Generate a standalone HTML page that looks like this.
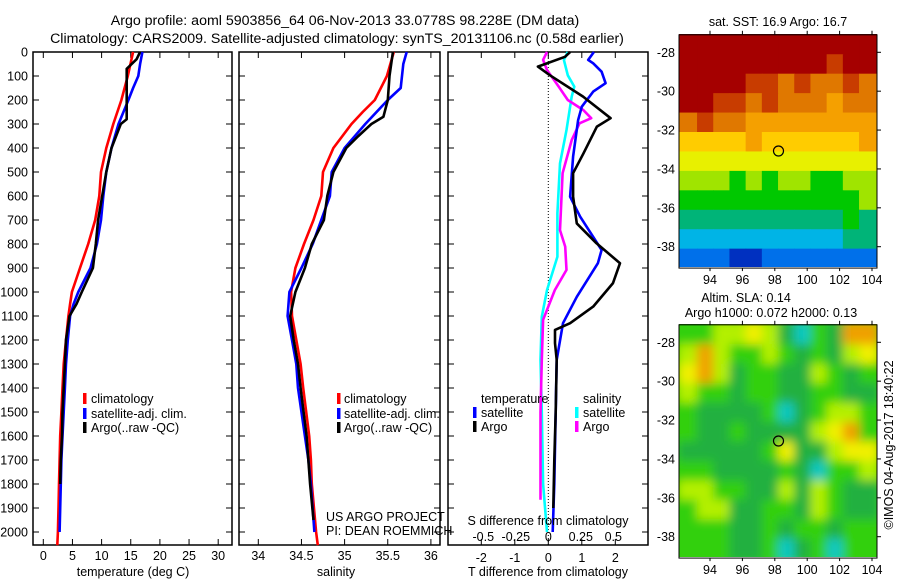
<!DOCTYPE html>
<html><head><meta charset="utf-8">
<style>
html,body{margin:0;padding:0;background:#fff;}
svg{display:block;font-family:"Liberation Sans",sans-serif;font-size:12.5px;}
.ttl{font-size:14.2px;}
</style></head>
<body>
<svg id="fig" width="900" height="580" viewBox="0 0 900 580" xmlns="http://www.w3.org/2000/svg">
<defs>
<filter id="blur" x="0" y="0" width="1" height="1"><feGaussianBlur stdDeviation="5"/></filter>
<clipPath id="clipSla"><rect x="679" y="324" width="198" height="233"/></clipPath>
<clipPath id="clipSst"><rect x="679" y="34" width="198" height="233"/></clipPath>
</defs>
<text class="ttl" x="345" y="25" text-anchor="middle">Argo profile: aoml 5903856_64 06-Nov-2013 33.0778S 98.228E (DM data)</text>
<text class="ttl" x="337" y="43" text-anchor="middle">Climatology: CARS2009. Satellite-adjusted climatology: synTS_20131106.nc (0.58d earlier)</text>
<g id="g"></g>
</svg>
<script>
// ---- data ----
const depthTicks=[0,100,200,300,400,500,600,700,800,900,1000,1100,1200,1300,1400,1500,1600,1700,1800,1900,2000];
const tempTicks=[0,5,10,15,20,25,30];
const salTicks=[34,34.5,35,35.5,36];
const salTickLabels=["34","34.5","35","35.5","36"];
const tdiffTicks=[-2,-1,0,1,2];
const sdiffTicks=[-0.5,-0.25,0,0.25,0.5];
const sdiffTickLabels=["-0.5","-0.25","0","0.25","0.5"];

const tClimDepth=[0,100,200,300,400,500,600,700,800,900,1000,1050,1100,1200,1300,1400,1500,1600,1700,1800,1900,2000,2055];
const tClim=[15.4,14.5,13.4,12.0,10.8,9.9,9.6,8.9,7.7,6.3,4.9,4.6,4.3,3.9,3.5,3.3,3.1,2.9,2.8,2.7,2.6,2.5,2.4];
const tSatDepth=[0,50,100,150,200,300,400,500,600,700,800,900,1000,1050,1100,1200,1300,1400,1500,1600,1700,1800,1900,2000];
const tSat=[17.0,16.6,16.3,15.4,14.6,12.9,11.7,10.8,10.3,9.9,9.2,8.1,6.0,5.2,4.6,4.2,3.9,3.7,3.5,3.3,3.1,3.0,2.9,2.8];
const tArgoDepth=[0,30,70,200,280,300,400,500,600,700,800,900,1000,1050,1100,1200,1300,1400,1500,1600,1700,1800];
const tArgo=[16.6,16.0,14.3,14.3,14.3,13.3,11.7,10.8,10.1,9.4,9.0,8.5,6.6,5.7,4.5,3.9,3.7,3.5,3.3,3.2,3.0,2.9];

const sClimDepth=[0,100,200,250,300,400,500,600,700,800,900,1000,1100,1200,1300,1400,1600,1700,1800,2000,2055];
const sClim=[35.57,35.49,35.35,35.21,35.08,34.87,34.75,34.73,34.64,34.53,34.43,34.38,34.39,34.44,34.49,34.52,34.59,34.61,34.62,34.67,34.69];
const sSatDepth=[0,50,150,200,300,400,500,600,700,800,900,1000,1100,1200,1300,1400,1600,1700,1800,2000];
const sSat=[35.72,35.68,35.65,35.50,35.24,35.00,34.85,34.83,34.73,34.63,34.50,34.36,34.34,34.39,34.44,34.46,34.54,34.58,34.61,34.65];
const sArgoDepth=[0,100,200,270,300,350,400,500,600,700,800,900,1000,1100,1200,1300,1400,1600,1800,1950];
const sArgo=[35.56,35.52,35.50,35.45,35.31,35.16,35.02,34.87,34.80,34.76,34.62,34.54,34.43,34.37,34.41,34.46,34.49,34.56,34.60,34.64];

const dTSatDepth=[0,33,47,82,130,165,228,284,436,603,686,825,880,1020,1130,1283,1500,1800,2000];
const dTSat=[1.36,1.19,1.34,1.59,1.71,1.34,1.0,0.89,0.74,0.65,0.95,1.59,1.48,0.85,0.44,0.25,0.22,0.18,0.13];
const dTArgoDepth=[0,20,61,97,186,276,311,422,505,603,714,797,880,963,1061,1130,1158,1213,1283,1500,1700,1900];
const dTArgo=[0.65,0.5,-0.31,0.05,1.04,1.86,1.45,1.05,0.74,0.74,0.85,1.44,2.14,1.93,1.34,0.65,0.2,0.2,0.25,0.22,0.18,0.15];
const dSSatDepth=[0,33,97,144,186,325,464,672,853,992,1103,1283,1500,1800,2000];
const dSSat=[0.15,0.12,0.15,0.2,0.18,0.14,0.09,0.07,0.07,-0.01,-0.05,-0.06,-0.05,-0.04,-0.01];
const dSArgoDepth=[0,33,75,144,200,242,276,297,367,505,742,811,908,992,1116,1283,1500,1866];
const dSArgo=[-0.01,-0.04,-0.01,0.08,0.15,0.27,0.33,0.24,0.18,0.11,0.09,0.13,0.14,0.05,-0.04,-0.05,-0.06,-0.06];

const lonTicks=[94,96,98,100,102,104];
const latTicks=[-28,-30,-32,-34,-36,-38];
const profLon=98.228, profLat=-33.078;
const sstGrid=[
[10,10,10,10,10,10,10,10,10,10,10,10],
[10,10,10,10,10,10,10,10,10,9,10,10],
[10,10,10,10,9,9,8,9,8,8,9,8],
[10,10,9,9,8,9,8,8,8,7,8,8],
[8,9,8,8,7,7,7,7,7,7,7,7],
[6,6,6,6,7,6,6,6,6,6,6,7],
[5,5,5,5,5,5,5,5,5,5,5,5],
[4,4,4,3,4,3,4,4,3,3,4,4],
[3,3,3,3,3,3,3,3,3,3,3,4],
[2,2,2,2,2,2,2,2,2,2,3,2],
[1,1,1,1,1,1,1,1,1,1,2,2],
[0,0,0,-1,-1,0,0,0,0,0,0,0]];
const slaGrid=[
[2,2,3,3,4,3,1,0,2,1,5,5],
[3,5,3,2,2,3,2,1,2,1,3,4],
[4,5,3,1,2,2,1,1,3,2,1,2],
[3,2,2,1,2,2,1,1,2,2,1,1],
[2,1,1,1,1,2,0,1,2,3,3,2],
[2,1,1,2,1,1,1,1,3,4,5,2],
[1,1,1,1,1,2,4,1,1,3,4,4],
[2,2,1,1,1,1,2,1,0,2,2,3],
[3,3,2,2,1,1,3,1,3,2,1,1],
[2,3,3,1,1,2,2,1,3,2,1,1],
[2,2,2,1,1,2,1,2,2,1,2,2],
[2,2,2,1,1,2,0,1,2,0,2,2]];

// ---- helpers ----
const NS="http://www.w3.org/2000/svg";
const G=document.getElementById('g');
function mk(tag,attrs,parent){const e=document.createElementNS(NS,tag);for(const k in attrs)e.setAttribute(k,attrs[k]);(parent||G).appendChild(e);return e;}
function txt(x,y,s,anchor,parent){const e=mk('text',{x:x,y:y,'text-anchor':anchor||'middle'},parent);e.textContent=s;return e;}
const Y=d=>52+d*0.24;
const xT=t=>43.3+t*5.83;
const xS=s=>258.3+(s-34)*86.3;
const xdT=v=>548.3+v*33.5;
const xdS=v=>548.3+v*130;
const lonX=l=>710+(l-94)*16.2;
const latY0=l=>52.3+(-28-l)*19.44;
const latY1=l=>latY0(l)+290;

function box(x0,x1,name){const r=mk('rect',{x:x0,y:52,width:x1-x0,height:493,fill:'none',stroke:'#000','stroke-width':1.5});
}
function depthTicksFor(x0,x1,labels){
  depthTicks.forEach(d=>{const y=Y(d);
    mk('line',{x1:x0,y1:y,x2:x0+6,y2:y,stroke:'#000'});mk('line',{x1:x1-6,y1:y,x2:x1,y2:y,stroke:'#000'});
    if(labels){const t=txt(28,y+4.5,String(d),'end');}
  });
}
function xTicks(vals,labs,fx,ly){vals.forEach((v,i)=>{const x=fx(v);
  mk('line',{x1:x,y1:52,x2:x,y2:58,stroke:'#000'});mk('line',{x1:x,y1:539,x2:x,y2:545,stroke:'#000'});
  if(labs){const t=txt(x,ly,labs[i]);}});}
function line(ds,vs,fx,color,name){
  const pts=ds.map((d,i)=>fx(vs[i]).toFixed(1)+','+Y(d).toFixed(1)).join(' ');
  const p=mk('polyline',{points:pts,fill:'none',stroke:color,'stroke-width':2.6,'stroke-linejoin':'round'});
  }
function legendMark(x,y,color){mk('rect',{x:x,y:y-10,width:3.5,height:11,fill:color});}

// panel 1 temperature
box(33,232,'temperature-panel');
depthTicksFor(33,232,true);
xTicks(tempTicks,tempTicks.map(String),xT,560);
line(tClimDepth,tClim,xT,'#ff0000','temp-climatology-line');
line(tSatDepth,tSat,xT,'#0000ff','temp-satellite-line');
line(tArgoDepth,tArgo,xT,'#000','temp-argo-line');
let t=txt(133,580-4,'temperature (deg C)');
[['climatology','#ff0000',403],['satellite-adj. clim.','#0000ff',418],['Argo(..raw -QC)','#000',432]].forEach(l=>{
  legendMark(83,l[2],l[1]);const e=txt(91,l[2],l[0],'start');});

// panel 2 salinity
box(239,440,'salinity-panel');
depthTicksFor(239,440,false);
xTicks(salTicks,salTickLabels,xS,560);
line(sClimDepth,sClim,xS,'#ff0000','sal-climatology-line');
line(sSatDepth,sSat,xS,'#0000ff','sal-satellite-line');
line(sArgoDepth,sArgo,xS,'#000','sal-argo-line');
t=txt(336,576,'salinity');
[['climatology','#ff0000',403],['satellite-adj. clim.','#0000ff',418],['Argo(..raw -QC)','#000',432]].forEach(l=>{
  legendMark(337,l[2],l[1]);const e=txt(344,l[2],l[0],'start');});
t=txt(326,521,'US ARGO PROJECT','start');
t=txt(326,535,'PI: DEAN ROEMMICH','start');

// panel 3 differences
box(448,648,'difference-panel');
depthTicksFor(448,648,false);
xTicks(tdiffTicks,tdiffTicks.map(String),xdT,562);
mk('line',{x1:xdT(0),y1:52,x2:xdT(0),y2:545,stroke:'#000','stroke-dasharray':'1,2'});
line(dSSatDepth,dSSat,xdS,'#00ffff','sdiff-satellite-line');
line(dSArgoDepth,dSArgo,xdS,'#ff00ff','sdiff-argo-line');
line(dTSatDepth,dTSat,xdT,'#0000ff','tdiff-satellite-line');
line(dTArgoDepth,dTArgo,xdT,'#000','tdiff-argo-line');
sdiffTicks.forEach((v,i)=>{const e=txt(xdS(v),541,sdiffTickLabels[i]);});
t=txt(548,525,'S difference from climatology');
t=txt(548,576,'T difference from climatology');
t=txt(481,403,'temperature','start');
t=txt(583,403,'salinity','start');
[[473,417,'#0000ff','satellite'],[473,431,'#000','Argo'],[575,417,'#00ffff','satellite'],[575,431,'#ff00ff','Argo']].forEach(l=>{
  legendMark(l[0],l[1],l[2]);const e=txt(l[0]+8,l[1],l[3],'start');});

// maps
const sstCol={10:'#a50000',9:'#c83c00',8:'#e07800',7:'#f5a000',6:'#ffcc00',5:'#e8f000',4:'#a0e400',3:'#00c800',2:'#00b478',1:'#00b4e6',0:'#0070ea','-1':'#0030c0'};
const slaCol={0:'#10c8c0',1:'#20b040',2:'#30d010',3:'#b4f000',4:'#f0f000',5:'#f0a000'};
function drawMap(grid,cols,latY,clip,blur,name){
  const g=mk('g',{'clip-path':'url(#'+clip+')'});
  
  const inner=mk('g',blur?{filter:'url(#blur)'}:{},g);
  if(blur) mk('rect',{x:600,y:latY(-26),width:300,height:300,fill:cols[2]},inner);
  grid.forEach((row,r)=>row.forEach((v,c)=>{
    const lon0=92.2+c, lat0=-27.1-r;
    const x0=lonX(lon0), y0=latY(lat0);
    const ex=c==row.length-1?3:0, ey=r==grid.length-1?3:0;
    mk('rect',{x:x0-(c==0?3:0),y:y0-(r==0?3:0),width:lonX(lon0+1)-x0+0.6+ex+(c==0?3:0),height:latY(lat0-1)-y0+0.6+ey+(r==0?3:0),fill:cols[v]},inner);
  }));
  const y0=latY(-27.1), y1=latY(-39.1);
  mk('rect',{x:679,y:y0,width:198,height:y1-y0,fill:'none',stroke:'#000','stroke-width':1});
  lonTicks.forEach(l=>{const x=lonX(l);mk('line',{x1:x,y1:y0-4,x2:x,y2:y0,stroke:'#000'});mk('line',{x1:x,y1:y1,x2:x,y2:y1+3,stroke:'#000'});
    const e=txt(x,y1+16,String(l));});
  latTicks.forEach(l=>{const y=latY(l);mk('line',{x1:877,y1:y,x2:881,y2:y,stroke:'#000'});
    const e=txt(675,y+4.5,String(l),'end');});
  const c=mk('circle',{cx:lonX(profLon),cy:latY(profLat),r:5,fill:'none',stroke:'#000','stroke-width':1.2});
  
}
drawMap(sstGrid,sstCol,latY0,'clipSst',false,'sst-map');
drawMap(slaGrid,slaCol,latY1,'clipSla',true,'sla-map');
t=txt(778,26,'sat. SST: 16.9 Argo: 16.7');
t=txt(746,302,'Altim. SLA: 0.14');
t=txt(771,317,'Argo h1000: 0.072 h2000: 0.13');
t=mk('text',{x:0,y:0,transform:'translate(893,445) rotate(-90)','text-anchor':'middle'});t.textContent='©IMOS 04-Aug-2017 18:40:22';

</script>
</body></html>
